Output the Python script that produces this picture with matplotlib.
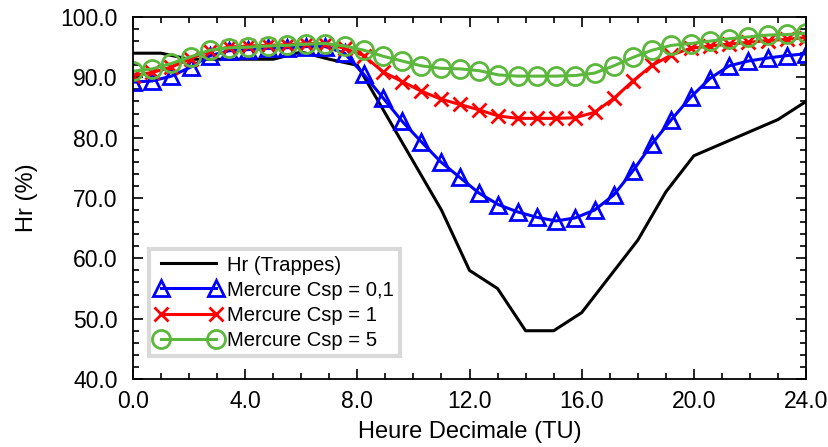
import numpy as np
import matplotlib
matplotlib.use("Agg")
from matplotlib import pyplot as plt
from matplotlib.ticker import MultipleLocator, FormatStrFormatter

plt.rcParams['font.family'] = ['Liberation Sans', 'DejaVu Sans']

# Hr measured at Trappes, hourly
hours = [0, 1, 2, 3, 4, 5, 6, 7, 8, 9, 10, 11, 12, 13, 14, 15, 16, 17, 18, 19, 20, 21, 22, 23, 24]
hr_trappes = [94, 94, 93, 93, 93, 93, 94.2, 93, 92, 84, 76, 68, 58, 55, 48, 48, 51, 57, 63, 71, 77, 79, 81, 83, 86]

# simulated points (36 steps over the day)
t_sim = np.linspace(0, 24, 36)
csp_01 = [89.2, 89.4, 90.2, 91.7, 93.6, 94.4, 94.6, 94.8, 94.9, 95.1, 95.1, 94.0,
          90.5, 86.6, 82.7, 79.3, 76.0, 73.4, 70.8, 68.9, 67.7, 66.8, 66.2, 66.7,
          68.0, 70.5, 74.5, 79.0, 83.0, 86.7, 89.8, 91.9, 92.7, 93.2, 93.6, 93.9]
csp_1 = [90.3, 90.8, 91.7, 93.1, 94.4, 95.0, 95.2, 95.3, 95.4, 95.6, 95.6, 94.8,
         93.6, 90.9, 89.3, 87.7, 86.4, 85.5, 84.6, 83.6, 83.2, 83.2, 83.2, 83.3,
         84.2, 86.5, 89.4, 92.0, 93.7, 94.8, 95.2, 95.5, 95.8, 96.1, 96.3, 96.6]
csp_5 = [91.0, 91.4, 92.3, 93.4, 94.5, 94.9, 95.0, 95.2, 95.3, 95.5, 95.6, 95.2,
         94.5, 93.5, 92.7, 91.9, 91.5, 91.4, 91.1, 90.4, 90.2, 90.2, 90.2, 90.3,
         90.7, 91.9, 93.3, 94.5, 95.3, 95.6, 96.0, 96.4, 96.7, 97.0, 97.1, 97.3]

fig = plt.figure(figsize=(8.29, 4.47), dpi=100)
ax = fig.add_axes([0.1604, 0.1521, 0.8119, 0.8099])

ax.plot(hours, hr_trappes, color='black', lw=2.2, label='Hr (Trappes)')
ax.plot(t_sim, csp_01, color='#0000ff', lw=2.2, marker='^', ms=12, mfc='none',
        mew=2.0, label='Mercure Csp = 0,1')
ax.plot(t_sim, csp_1, color='#ff0000', lw=2.2, marker='x', ms=10, mew=2.0,
        label='Mercure Csp = 1')
ax.plot(t_sim, csp_5, color='#5cb83c', lw=2.2, marker='o', ms=13, mfc='none',
        mew=2.0, label='Mercure Csp = 5')

ax.set_xlim(0, 24)
ax.set_ylim(40, 100)
ax.xaxis.set_major_locator(MultipleLocator(4))
ax.xaxis.set_minor_locator(MultipleLocator(1))
ax.yaxis.set_major_locator(MultipleLocator(10))
ax.yaxis.set_minor_locator(MultipleLocator(2))
ax.xaxis.set_major_formatter(FormatStrFormatter('%.1f'))
ax.yaxis.set_major_formatter(FormatStrFormatter('%.1f'))
ax.tick_params(which='both', direction='in', top=True, right=True, width=1.2)
ax.tick_params(which='major', length=7, labelsize=16.5)
ax.tick_params(axis='x', which='major', pad=8)
ax.tick_params(axis='y', which='major', pad=11)
ax.tick_params(which='minor', length=4)
for s in ax.spines.values():
    s.set_linewidth(1.3)

ax.set_xlabel('Heure Decimale (TU)', fontsize=17, labelpad=6)
ax.set_ylabel('Hr (%)', fontsize=17, labelpad=16)

leg = ax.legend(loc='lower left', bbox_to_anchor=(0.024, 0.064), borderaxespad=0,
                fontsize=14.6, numpoints=2, handlelength=3.3, handletextpad=0.25,
                labelspacing=0.3, fancybox=False, framealpha=1, borderpad=0.3)
leg.get_frame().set_edgecolor('#d9d9d9')
leg.get_frame().set_linewidth(3)

fig.savefig('out.png', dpi=100)
